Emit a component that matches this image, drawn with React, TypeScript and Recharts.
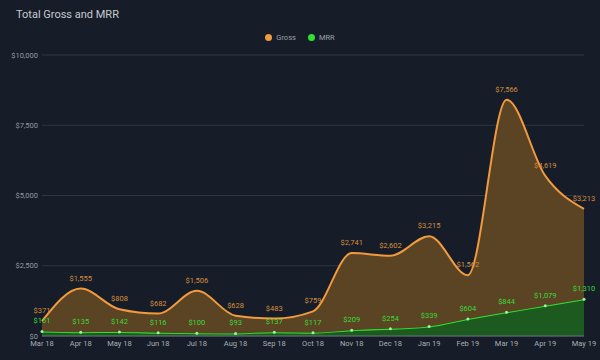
import React from "react";
import {
  Area,
  AreaChart,
  CartesianGrid,
  LabelList,
  XAxis,
  YAxis,
} from "recharts";

const months = [
  "Mar 18", "Apr 18", "May 18", "Jun 18", "Jul 18", "Aug 18", "Sep 18", "Oct 18",
  "Nov 18", "Dec 18", "Jan 19", "Feb 19", "Mar 19", "Apr 19", "May 19",
];
const gross = [371, 1555, 808, 682, 1506, 628, 483, 759, 2741, 2602, 3215, 1562, 7566, 4619, 3213];
const mrr = [161, 135, 142, 116, 100, 93, 137, 117, 209, 254, 339, 604, 844, 1079, 1310];
const yTicks = [0, 2500, 5000, 7500, 10000];

const data = months.map((m, i) => ({ month: m, gross: gross[i], mrr: mrr[i] }));

const BG = "#161d28";
const GROSS = "#f19a3e";
const MRR = "#2fe22f";
const money = (v: number) => "$" + Number(v).toLocaleString("en-US");

function LegendDot({ color, label }: { color: string; label: string }) {
  return (
    <span style={{ display: "inline-flex", alignItems: "center", margin: "0 6px" }}>
      <span
        style={{
          width: 7,
          height: 7,
          borderRadius: 4,
          background: color,
          display: "inline-block",
          marginRight: 4,
        }}
      />
      <span style={{ color: "#9aa0a8", fontSize: 7.5 }}>{label}</span>
    </span>
  );
}

export default function App() {
  return (
    <div
      style={{
        position: "fixed",
        left: 0,
        top: 0,
        width: 600,
        height: 360,
        background: BG,
        fontFamily: "Roboto, sans-serif",
        overflow: "hidden",
      }}
    >
      <div style={{ position: "absolute", left: 16, top: 8, fontSize: 11, color: "#c6cad0" }}>
        Total Gross and MRR
      </div>
      <div style={{ position: "absolute", left: 0, width: 600, top: 30, textAlign: "center", lineHeight: "12px" }}>
        <LegendDot color={GROSS} label="Gross" />
        <LegendDot color={MRR} label="MRR" />
      </div>
      <AreaChart
        width={600}
        height={360}
        data={data}
        margin={{ top: 55, right: 16, left: 0, bottom: 4 }}
      >
        <CartesianGrid stroke="#2d3643" vertical={false} />
        <XAxis
          dataKey="month"
          tickLine={false}
          axisLine={{ stroke: "#6a7280" }}
          tickSize={0}
          tickMargin={5}
          height={20}
          interval={0}
          tick={{ fill: "#a8adb5", fontSize: 7.5 }}
        />
        <YAxis
          domain={[0, 10000]}
          ticks={yTicks}
          width={42}
          tickLine={false}
          axisLine={false}
          tickSize={0}
          tickMargin={4}
          tickFormatter={money}
          tick={{ fill: "#959ba3", fontSize: 7.5 }}
        />
        <Area
          type="monotone"
          dataKey="mrr"
          stackId="a"
          stroke={MRR}
          strokeWidth={2}
          fill="#1c5a20"
          fillOpacity={1}
          dot={{ r: 1.5, fill: "#9cf59c", stroke: "none" }}
          isAnimationActive={false}
        >
          <LabelList dataKey="mrr" position="top" offset={8} formatter={money} fill="#38da38" fontSize={7.5} />
        </Area>
        <Area
          type="monotone"
          dataKey="gross"
          stackId="a"
          stroke={GROSS}
          strokeWidth={2}
          fill="#5a4423"
          fillOpacity={1}
          dot={false}
          isAnimationActive={false}
        >
          <LabelList dataKey="gross" position="top" offset={8} formatter={money} fill="#d68d3c" fontSize={7.5} />
        </Area>
      </AreaChart>
    </div>
  );
}
